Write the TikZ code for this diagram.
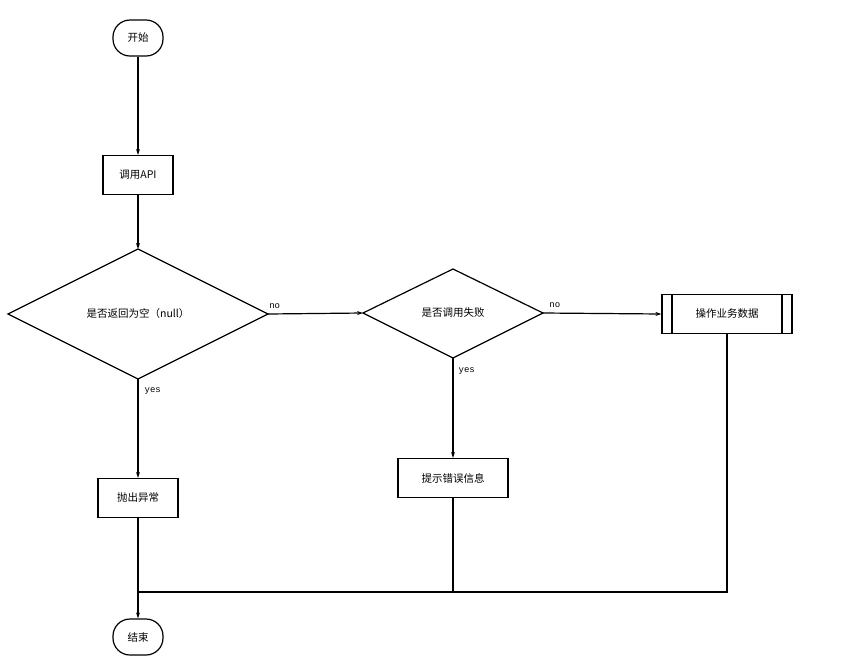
\documentclass[tikz,border=0pt]{standalone}
\usepackage{fontspec}
\setmainfont{Liberation Sans}
\newfontfamily\cjk{Noto Sans CJK SC}
\setmonofont{Liberation Mono}
\usetikzlibrary{shapes.geometric,arrows.meta}
\begin{document}
\begin{tikzpicture}[x=1pt,y=-1pt,line width=1.2pt,
  every node/.style={font=\cjk\fontsize{10.5}{12}\selectfont,inner sep=0pt},
  term/.style={draw,rounded corners=17pt,minimum width=50pt,minimum height=36pt},
  box/.style={draw,minimum height=39pt},
  lab/.style={font=\ttfamily\fontsize{9}{10}\selectfont},
  arr/.style={-{Stealth[length=6pt,width=4pt]}}]
\useasboundingbox (0,0) rectangle (855,665);
\node[term] (s) at (138,38) {开始};
\node[box,minimum width=70pt] (api) at (138,175) {调用API};
\draw (8,314) -- (138,249) -- (268,314) -- (138,379) -- cycle;
\node (d1) at (138,314) {是否返回为空（null）};
\coordinate (d1l) at (268,314); \coordinate (d1b) at (138,379); \coordinate (d1t) at (138,249);
\draw (363,313) -- (453,269) -- (543,313) -- (453,358) -- cycle;
\node (d2) at (453,313) {是否调用失败};
\coordinate (d2l) at (363,313); \coordinate (d2r) at (543,313); \coordinate (d2b) at (453,358);
\node[box,minimum width=130pt] (op) at (727,314) {操作业务数据};
\draw (672,294) -- (672,333) (782,294) -- (782,333);
\node[box,minimum width=80pt] (ex) at (138,498) {抛出异常};
\node[box,minimum width=110pt] (err) at (453,478) {提示错误信息};
\node[term] (e) at (138,637) {结束};
\coordinate (j) at (138,592);
\draw[arr] (s) -- (api);
\draw[arr] (api) -- (d1t);
\draw[arr] (d1l) -- (d2l) node[lab,pos=0.07,above=5pt] {no};
\draw[arr] (d2r) -- (op.west) node[lab,pos=0.1,above=5pt] {no};
\draw[arr] (d1b) -- (ex) node[lab,pos=0.12,right=6pt] {yes};
\draw[arr] (d2b) -- (err) node[lab,pos=0.13,right=5pt] {yes};
\draw[arr] (ex) -- (e);
\draw (op.south) |- (j);
\draw (err.south) -- (453,592);
\end{tikzpicture}
\end{document}
